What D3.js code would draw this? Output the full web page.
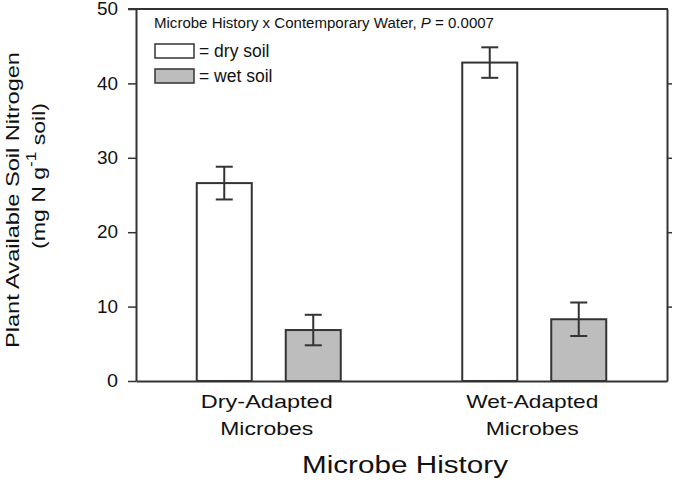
<!DOCTYPE html>
<html>
<head>
<meta charset="utf-8">
<script src="https://cdn.jsdelivr.net/npm/d3@7"></script>
<style>
  body { margin: 0; background: #fff; }
  text { font-family: "Liberation Sans", Arial, sans-serif; fill: #111; }
</style>
</head>
<body>
<div id="chart"></div>
<script>
// data
var groups = ["Dry-Adapted", "Wet-Adapted"];
var soils = ["dry soil", "wet soil"];
var dryMean = [26.6, 42.8];
var dryErr = [2.2, 2.05];
var wetMean = [6.85, 8.3];
var wetErr = [2.05, 2.25];
var yTicks = [0, 10, 20, 30, 40, 50];

var W = 680, H = 488;
var plotL = 136, plotR = 667, plotT = 9, plotB = 381;
var lineCol = "#333";

var svg = d3.select("#chart").append("svg").attr("width", W).attr("height", H);

var y = d3.scaleLinear().domain([0, 50]).range([plotB, plotT]);
var x0 = d3.scaleBand().domain(groups).range([plotL, plotR]);
var half = x0.bandwidth() / 2;
var x1 = d3.scaleBand().domain(soils).range([half - 72, half + 72]).paddingInner(0.382);

// stretch text horizontally like the source picture
function fit(sel, len) {
  sel.attr("textLength", len).attr("lengthAdjust", "spacingAndGlyphs");
}

// y axis left
var yAxis = svg.append("g").attr("transform", "translate(" + plotL + ",0)")
  .call(d3.axisLeft(y).tickValues(yTicks).tickSize(8).tickSizeOuter(0).tickPadding(10));
yAxis.select(".domain").attr("stroke", lineCol).attr("stroke-width", 2);
yAxis.selectAll(".tick line").attr("stroke", lineCol).attr("stroke-width", 1.5);
yAxis.selectAll(".tick text").attr("font-size", 17.5).attr("fill", "#111")
  .style("font-family", "'Liberation Sans', Arial, sans-serif")
  .each(function(d) { fit(d3.select(this), d == 0 ? 11 : 21); });

// right frame with small ticks
var yRight = svg.append("g").attr("transform", "translate(" + plotR + ",0)")
  .call(d3.axisRight(y).tickValues([10, 20, 30, 40]).tickSize(5).tickSizeOuter(0).tickFormat(""));
yRight.select(".domain").attr("stroke", lineCol).attr("stroke-width", 2);
yRight.selectAll(".tick line").attr("stroke", lineCol).attr("stroke-width", 1.5);

// bottom + top lines
var xAxis = svg.append("g").attr("transform", "translate(0," + plotB + ")")
  .call(d3.axisBottom(x0).tickSize(0).tickFormat(""));
xAxis.select(".domain").attr("stroke", lineCol).attr("stroke-width", 2);
svg.append("line").attr("x1", plotL - 8).attr("x2", plotR + 1).attr("y1", plotT).attr("y2", plotT)
  .attr("stroke", lineCol).attr("stroke-width", 2);

// bars
var rows = groups.map(function(g, i) {
  return [
    {g: g, s: soils[0], v: dryMean[i], e: dryErr[i], fill: "#fff"},
    {g: g, s: soils[1], v: wetMean[i], e: wetErr[i], fill: "#bdbdbd"}
  ];
});

var grp = svg.selectAll(".grp").data(rows).enter().append("g")
  .attr("transform", function(d, i) { return "translate(" + x0(groups[i]) + ",0)"; });

grp.selectAll("rect").data(function(d) { return d; }).enter().append("rect")
  .attr("x", function(d) { return x1(d.s); })
  .attr("y", function(d) { return y(d.v); })
  .attr("width", x1.bandwidth())
  .attr("height", function(d) { return y(0) - y(d.v); })
  .attr("fill", function(d) { return d.fill; })
  .attr("stroke", lineCol).attr("stroke-width", 2);

// error bars
var cap = 8.5;
var eb = grp.selectAll(".eb").data(function(d) { return d; }).enter().append("g")
  .attr("stroke", lineCol).attr("stroke-width", 2);
eb.append("line")
  .attr("x1", function(d) { return x1(d.s) + x1.bandwidth() / 2; })
  .attr("x2", function(d) { return x1(d.s) + x1.bandwidth() / 2; })
  .attr("y1", function(d) { return y(d.v + d.e); })
  .attr("y2", function(d) { return y(d.v - d.e); });
[1, -1].forEach(function(sg) {
  eb.append("line")
    .attr("x1", function(d) { return x1(d.s) + x1.bandwidth() / 2 - cap; })
    .attr("x2", function(d) { return x1(d.s) + x1.bandwidth() / 2 + cap; })
    .attr("y1", function(d) { return y(d.v + sg * d.e); })
    .attr("y2", function(d) { return y(d.v + sg * d.e); });
});

// category labels
groups.forEach(function(g, i) {
  var cx = x0(g) + half - 2;
  fit(svg.append("text").attr("x", cx).attr("y", 408).attr("text-anchor", "middle")
    .attr("font-size", 18.5).text(g), 132);
  fit(svg.append("text").attr("x", cx).attr("y", 435).attr("text-anchor", "middle")
    .attr("font-size", 18.5).text("Microbes"), 93);
});

// axis titles
fit(svg.append("text").attr("x", 405).attr("y", 473).attr("text-anchor", "middle")
  .attr("font-size", 23.5).text("Microbe History"), 206);

fit(svg.append("text").attr("transform", "translate(19,200) rotate(-90)")
  .attr("text-anchor", "middle").attr("font-size", 19)
  .text("Plant Available Soil Nitrogen"), 296);

var t2 = svg.append("text").attr("transform", "translate(45,176) rotate(-90)")
  .attr("text-anchor", "middle").attr("font-size", 19);
t2.append("tspan").text("(mg N g");
t2.append("tspan").attr("font-size", 14).attr("dy", -9).text("-1");
t2.append("tspan").attr("dy", 9).text(" soil)");
fit(t2, 146);

// annotation and legend
var ann = svg.append("text").attr("x", 154).attr("y", 28).attr("font-size", 14);
ann.append("tspan").text("Microbe History x Contemporary Water, ");
ann.append("tspan").attr("font-style", "italic").text("P");
ann.append("tspan").text(" = 0.0007");
fit(ann, 340);

var legY = [44, 69];
soils.forEach(function(s, i) {
  svg.append("rect").attr("x", 155).attr("y", legY[i]).attr("width", 39).attr("height", 14)
    .attr("fill", i == 0 ? "#fff" : "#bdbdbd").attr("stroke", lineCol).attr("stroke-width", 1.5);
  svg.append("text").attr("x", 199).attr("y", legY[i] + 13).attr("font-size", 17.5)
    .text("= " + s);
});
</script>
</body>
</html>
